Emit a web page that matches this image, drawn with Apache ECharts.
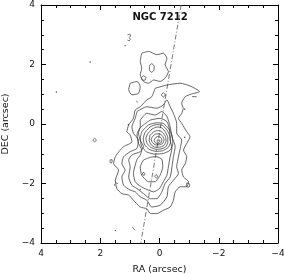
<!DOCTYPE html>
<html><head><meta charset="utf-8">
<script src="https://cdn.jsdelivr.net/npm/echarts@6/dist/echarts.min.js"></script>
<style>html,body{margin:0;padding:0;background:#fff}#c{width:284px;height:274px}</style>
</head><body><div id="c"></div>
<script>
// Axis ranges and ticks
const raRange = [-4, 4];
const decRange = [-4, 4];
const titleText = 'NGC 7212';

// Contours [RA, DEC] (closed loops)
const contourOuter = [[0.15,1.20],[-0.25,1.31],[-0.70,1.37],[-1.03,1.28],[-1.35,1.09],[-1.09,1.01],[-0.87,0.92],[-0.75,0.70],[-0.80,0.52],[-0.75,0.36],[-0.64,0.19],[-0.75,0.02],[-0.92,-0.26],[-1.03,-0.43],[-0.92,-0.65],[-0.81,-0.88],[-0.92,-1.10],[-0.87,-1.33],[-0.75,-1.55],[-0.81,-1.78],[-0.98,-1.94],[-0.92,-2.11],[-0.70,-2.11],[-0.53,-2.28],[-0.47,-2.56],[-0.36,-2.79],[-0.13,-2.90],[0.09,-3.01],[0.31,-3.01],[0.43,-2.85],[0.65,-2.79],[0.88,-2.56],[1.04,-2.39],[1.27,-2.34],[1.44,-2.17],[1.49,-1.89],[1.38,-1.55],[1.55,-1.33],[1.49,-1.10],[1.33,-0.88],[1.21,-0.76],[0.93,-0.60],[0.99,-0.37],[1.10,-0.26],[1.04,-0.03],[0.88,0.19],[0.82,0.47],[0.65,0.58],[0.43,0.81],[0.26,0.92]];
const contourB = [[0.76,0.42],[0.43,0.58],[0.09,0.53],[-0.13,0.64],[-0.25,0.81],[-0.36,0.58],[-0.47,0.36],[-0.58,0.02],[-0.58,-0.31],[-0.75,-0.54],[-0.70,-0.82],[-0.64,-1.10],[-0.58,-1.44],[-0.64,-1.66],[-0.47,-1.89],[-0.30,-2.11],[-0.25,-2.45],[-0.02,-2.73],[0.26,-2.79],[0.43,-2.56],[0.65,-2.45],[0.82,-2.28],[0.99,-2.22],[1.21,-2.06],[1.27,-1.78],[1.16,-1.55],[1.27,-1.33],[1.21,-1.10],[0.99,-0.93],[0.76,-0.82],[0.71,-0.54],[0.88,-0.31],[0.93,-0.09],[0.82,0.19]];
const contourC = [[0.65,0.13],[0.43,0.36],[0.15,0.30],[-0.08,0.42],[-0.25,0.25],[-0.36,-0.09],[-0.42,-0.43],[-0.53,-0.76],[-0.47,-1.10],[-0.42,-1.44],[-0.36,-1.78],[-0.19,-2.00],[-0.08,-2.28],[0.09,-2.51],[0.31,-2.51],[0.54,-2.34],[0.76,-2.17],[0.93,-2.06],[1.04,-1.78],[0.99,-1.44],[1.04,-1.21],[0.93,-1.04],[0.65,-0.93],[0.54,-0.76],[0.65,-0.54],[0.71,-0.31],[0.65,-0.09]];
const contourD = [[0.54,-0.03],[0.31,0.13],[-0.02,0.19],[-0.25,0.08],[-0.34,-0.20],[-0.36,-0.54],[-0.42,-0.82],[-0.36,-1.10],[-0.30,-1.44],[-0.25,-1.72],[-0.13,-1.94],[0.00,-2.17],[0.20,-2.28],[0.43,-2.20],[0.65,-2.09],[0.82,-1.94],[0.88,-1.66],[0.82,-1.38],[0.76,-1.19],[0.65,-1.04],[0.60,-0.88],[0.71,-0.65],[0.76,-0.37],[0.67,-0.15]];
const contourSouthKnot = [[0.54,-1.21],[0.65,-1.44],[0.60,-1.72],[0.37,-1.94],[0.15,-1.94],[-0.02,-1.72],[-0.11,-1.44],[-0.08,-1.19],[0.09,-1.10],[0.31,-1.12]];
const contourE = [[0.60,-0.26],[0.37,-0.03],[0.09,0.04],[-0.13,0.02],[-0.30,-0.15],[-0.42,-0.37],[-0.45,-0.65],[-0.36,-0.88],[-0.13,-0.99],[0.15,-1.01],[0.43,-0.94],[0.60,-0.76],[0.65,-0.48]];
const contourF = [[0.50,-0.30],[0.32,-0.10],[0.10,-0.02],[-0.10,-0.05],[-0.25,-0.20],[-0.35,-0.40],[-0.37,-0.62],[-0.28,-0.80],[-0.10,-0.90],[0.12,-0.92],[0.35,-0.85],[0.50,-0.70],[0.55,-0.50]];
const contourG = [[0.40,-0.33],[0.25,-0.17],[0.08,-0.10],[-0.08,-0.13],[-0.20,-0.27],[-0.28,-0.45],[-0.28,-0.63],[-0.20,-0.78],[-0.05,-0.84],[0.12,-0.85],[0.30,-0.78],[0.42,-0.65],[0.46,-0.48]];
const contourH = [[0.32,-0.38],[0.18,-0.25],[0.04,-0.22],[-0.10,-0.28],[-0.20,-0.42],[-0.22,-0.58],[-0.15,-0.72],[0.00,-0.78],[0.15,-0.78],[0.28,-0.70],[0.35,-0.55]];
const contourI = [[0.24,-0.43],[0.12,-0.33],[0.00,-0.33],[-0.10,-0.40],[-0.15,-0.52],[-0.12,-0.64],[0.00,-0.70],[0.13,-0.70],[0.24,-0.62],[0.28,-0.52]];
const contourJ = [[0.15,-0.48],[0.06,-0.42],[-0.04,-0.45],[-0.08,-0.55],[-0.04,-0.64],[0.06,-0.67],[0.15,-0.62],[0.18,-0.55]];
const contourK = [[0.08,-0.55],[0.02,-0.52],[-0.02,-0.57],[0.02,-0.62],[0.08,-0.61]];
const contourNorth = [[0.60,2.38],[0.37,2.44],[0.09,2.33],[-0.13,2.38],[-0.25,2.21],[-0.19,1.99],[-0.30,1.76],[-0.19,1.54],[-0.02,1.43],[0.20,1.48],[0.37,1.37],[0.54,1.43],[0.65,1.65],[0.60,1.88],[0.65,2.10]];
const contourNorthIn1 = [[0.26,2.03],[0.18,1.95],[0.19,1.80],[0.27,1.74],[0.34,1.82],[0.33,1.97]];
const contourNorthIn2 = [[0.54,1.62],[0.46,1.57],[0.48,1.48],[0.57,1.47],[0.61,1.55]];
const contourNW = [[0.99,1.37],[0.76,1.43],[0.65,1.26],[0.71,1.03],[0.93,0.98],[1.04,1.15]];
const contourRing1 = [[-0.13,1.05],[-0.20,0.98],[-0.13,0.91],[-0.06,0.98]];
const contourRingW = [[2.19,-0.48],[2.13,-0.54],[2.19,-0.60],[2.25,-0.54]];
const contourZero = [[1.60,-1.20],[1.66,-1.20],[1.67,-1.27],[1.64,-1.32],[1.60,-1.28]];
const contourKnot2 = [[0.55,-1.62],[0.49,-1.67],[0.52,-1.73],[0.58,-1.68]];
const contourKnot3 = [[-0.92,-1.98],[-1.02,-2.02],[-1.00,-2.12],[-0.90,-2.10]];
const contourKnot4 = [[0.12,-1.70],[0.06,-1.75],[0.10,-1.82],[0.16,-1.76]];
// Open fragments
const frag3 = [[1.08,3.00],[1.00,3.02],[0.98,2.95],[1.03,2.90],[0.98,2.85],[1.02,2.80],[1.08,2.82]];
const fragSouth = [[0.92,-3.47],[0.82,-3.57]];
const fragEast = [[-1.10,0.92],[-1.25,0.92]];
const fragLeft = [[1.47,-1.98],[1.40,-2.00]];
const fragNW = [[0.78,0.78],[0.74,0.72]];
// Isolated points
const dots = [[2.34,2.08],[3.48,1.07],[1.16,2.63],[1.49,-3.58],[0.65,-2.20],[-0.85,0.50],[-0.85,-0.45],[1.05,-0.02],[1.52,-2.05]];
// Major axis (dash-dot)
const axisLinePts = [[-0.73,4],[0.63,-4]];

const closedLoops = [contourOuter, contourB, contourC, contourD, contourSouthKnot, contourE, contourF, contourG, contourH, contourI, contourJ, contourK, contourNorth, contourNorthIn1, contourNorthIn2, contourNW, contourRing1, contourRingW, contourZero, contourKnot2, contourKnot3, contourKnot4];
const openFrags = [frag3, fragSouth, fragEast, fragLeft, fragNW];

const lineCol = '#333';
const series = [];
closedLoops.forEach(c => {
  series.push({type:'line', data: c.concat([c[0]]), showSymbol:false, smooth:0.2, silent:true,
    lineStyle:{color:lineCol, width:0.75}, animation:false, z:3});
});
openFrags.forEach(c => {
  series.push({type:'line', data: c, showSymbol:false, smooth:0.2, silent:true,
    lineStyle:{color:lineCol, width:0.75}, animation:false, z:3});
});
series.push({type:'scatter', data: dots, symbol:'circle', symbolSize:1.6, itemStyle:{color:'#444'}, silent:true, animation:false});
series.push({type:'line', data: axisLinePts, showSymbol:false, silent:true, animation:false,
  lineStyle:{color:'#555', width:0.8, type:[5,2,1,2]}, z:2});

const fmt = v => (v < 0 ? '\u2212' + Math.abs(v) : String(v));
const lbl = {fontFamily:'DejaVu Sans', fontSize:9, color:'#111'};
function xAx(pos, showLabel){
  return {type:'value', min:raRange[0], max:raRange[1], inverse:true, interval:2, position:pos,
    axisLine:{show:true, onZero:false, lineStyle:{color:'#000', width:1}},
    axisTick:{show:true, inside:true, length:5, lineStyle:{color:'#000'}},
    minorTick:{show:true, splitNumber:4, length:3, lineStyle:{color:'#000'}},
    splitLine:{show:false},
    axisLabel:Object.assign({show:showLabel, margin:6, formatter:fmt}, lbl),
    name: showLabel ? 'RA (arcsec)' : '', nameLocation:'middle', nameGap:22,
    nameTextStyle:{fontFamily:'DejaVu Sans', fontSize:9.5, color:'#111'}};
}
function yAx(pos, showLabel){
  return {type:'value', min:decRange[0], max:decRange[1], interval:2, position:pos,
    axisLine:{show:true, onZero:false, lineStyle:{color:'#000', width:1}},
    axisTick:{show:true, inside:true, length:5, lineStyle:{color:'#000'}},
    minorTick:{show:true, splitNumber:4, length:3, lineStyle:{color:'#000'}},
    splitLine:{show:false},
    axisLabel:Object.assign({show:showLabel, margin:6, formatter:fmt}, lbl),
    name: showLabel ? 'DEC (arcsec)' : '', nameLocation:'middle', nameGap:25, nameRotate:90,
    nameTextStyle:{fontFamily:'DejaVu Sans', fontSize:9.5, color:'#111'}};
}

const chart = echarts.init(document.getElementById('c'), null, {renderer:'canvas'});
chart.setOption({
  animation:false,
  grid:{left:41, right:6, top:5, bottom:31, containLabel:false, outerBoundsMode:'none'},
  xAxis:[xAx('bottom', true), xAx('top', false)],
  yAxis:[yAx('left', true), yAx('right', false)],
  graphic:[{type:'text', x:160, y:12, style:{text:titleText, font:'bold 10px "DejaVu Sans"', fill:'#111', align:'center'}}],
  series: series
});
</script></body></html>
